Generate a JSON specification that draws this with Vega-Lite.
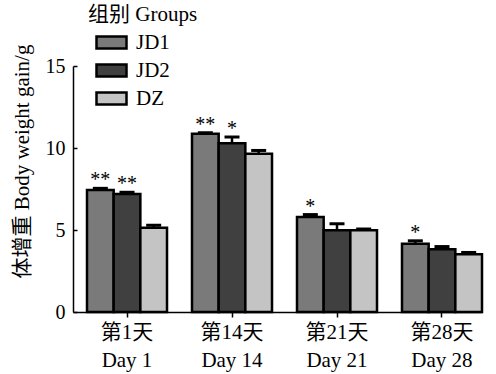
{
  "$schema": "https://vega.github.io/schema/vega-lite/v6.json",
  "width": 409,
  "height": 246,
  "autosize": {"type": "none"},
  "padding": {"left": 73, "top": 66, "right": 14, "bottom": 62},
  "background": "white",
  "config": {
    "view": {"stroke": null},
    "font": "Liberation Serif, Noto Sans CJK SC",
    "axis": {"labelFont": "Liberation Serif, Noto Sans CJK SC", "titleFont": "Liberation Serif, Noto Sans CJK SC", "labelColor": "black", "titleColor": "black", "domainColor": "black", "tickColor": "black", "grid": false},
    "legend": {"labelFont": "Liberation Serif, Noto Sans CJK SC", "titleFont": "Liberation Serif, Noto Sans CJK SC", "labelColor": "black", "titleColor": "black"}
  },
  "data": {
    "values": [
      {"day": "Day 1", "group": "JD1", "value": 7.44, "upper": 7.54, "sig": "**"},
      {"day": "Day 1", "group": "JD2", "value": 7.2, "upper": 7.3, "sig": "**"},
      {"day": "Day 1", "group": "DZ", "value": 5.14, "upper": 5.29, "sig": ""},
      {"day": "Day 14", "group": "JD1", "value": 10.87, "upper": 10.93, "sig": "**"},
      {"day": "Day 14", "group": "JD2", "value": 10.29, "upper": 10.67, "sig": "*"},
      {"day": "Day 14", "group": "DZ", "value": 9.65, "upper": 9.85, "sig": ""},
      {"day": "Day 21", "group": "JD1", "value": 5.79, "upper": 5.94, "sig": "*"},
      {"day": "Day 21", "group": "JD2", "value": 4.98, "upper": 5.38, "sig": ""},
      {"day": "Day 21", "group": "DZ", "value": 4.98, "upper": 5.06, "sig": ""},
      {"day": "Day 28", "group": "JD1", "value": 4.16, "upper": 4.34, "sig": "*"},
      {"day": "Day 28", "group": "JD2", "value": 3.82, "upper": 3.99, "sig": ""},
      {"day": "Day 28", "group": "DZ", "value": 3.52, "upper": 3.63, "sig": ""}
    ]
  },
  "encoding": {
    "x": {
      "field": "day",
      "type": "nominal",
      "sort": ["Day 1", "Day 14", "Day 21", "Day 28"],
      "scale": {"paddingInner": 0.238, "paddingOuter": 0.0667, "align": 1},
      "axis": {
        "title": null,
        "labelAngle": 0,
        "labelFontSize": 21,
        "labelLineHeight": 28,
        "labelPadding": 4,
        "tickSize": 5,
        "tickWidth": 1.5,
        "domainWidth": 1.5,
        "labelExpr": "['第' + replace(datum.label, 'Day ', '') + '天', datum.label]"
      }
    },
    "xOffset": {"field": "group", "type": "nominal", "sort": ["JD1", "JD2", "DZ"], "scale": {"paddingInner": 0, "paddingOuter": 0}}
  },
  "layer": [
    {
      "mark": {"type": "bar", "stroke": "black", "strokeWidth": 2.5},
      "encoding": {
        "y": {
          "field": "value",
          "type": "quantitative",
          "scale": {"domain": [0, 15], "nice": false},
          "axis": {
            "title": "体增重 Body weight gain/g",
            "titleFontSize": 21,
            "titleFontWeight": "normal",
            "titleAngle": -90,
            "titleX": -51,
            "titleY": 95,
            "titleAlign": "center",
            "titleBaseline": "middle",
            "values": [0, 5, 10, 15],
            "labelFontSize": 20,
            "tickSize": -4,
            "labelPadding": 12,
            "tickWidth": 1.5,
            "domainWidth": 1.5
          }
        },
        "fill": {
          "field": "group",
          "type": "nominal",
          "sort": ["JD1", "JD2", "DZ"],
          "scale": {"domain": ["JD1", "JD2", "DZ"], "range": ["#7a7a7a", "#404040", "#c4c4c4"]},
          "legend": {
            "title": "组别 Groups",
            "orient": "none",
            "legendX": 15,
            "legendY": -62,
            "padding": 0,
            "titleFontSize": 21,
            "titleFontWeight": "normal",
            "titlePadding": 1,
            "labelFontSize": 21,
            "symbolType": "M-1,-0.4H1V0.4H-1Z",
            "symbolSize": 900,
            "symbolStrokeColor": "black",
            "symbolStrokeWidth": 2.5,
            "symbolOpacity": 1,
            "symbolOffset": 7,
            "labelOffset": 8,
            "rowPadding": 0
          }
        }
      }
    },
    {
      "mark": {"type": "rule", "stroke": "black", "strokeWidth": 2.5},
      "encoding": {
        "y": {"field": "value", "type": "quantitative"},
        "y2": {"field": "upper"}
      }
    },
    {
      "mark": {"type": "tick", "color": "black", "size": 15, "thickness": 3, "opacity": 1},
      "encoding": {
        "y": {"field": "upper", "type": "quantitative"}
      }
    },
    {
      "mark": {"type": "text", "fontSize": 20, "baseline": "alphabetic", "dy": -2, "color": "black", "font": "Liberation Serif"},
      "encoding": {
        "y": {"field": "upper", "type": "quantitative"},
        "text": {"field": "sig"}
      }
    }
  ]
}
